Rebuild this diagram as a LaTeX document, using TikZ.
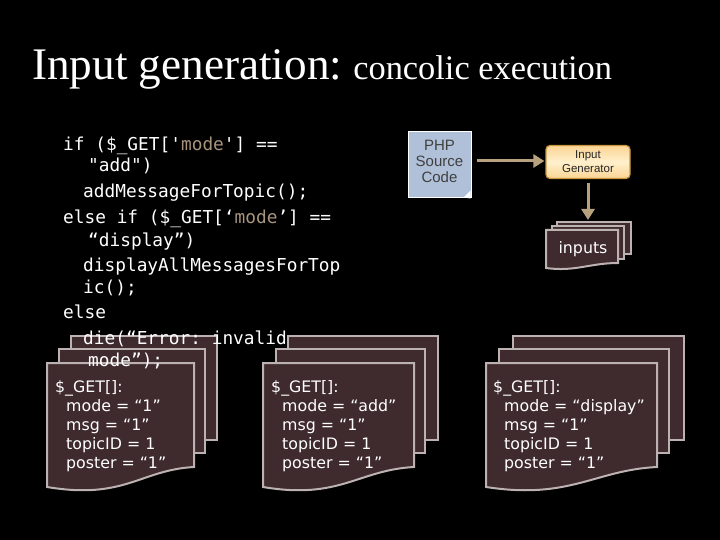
\documentclass[tikz,border=0pt]{standalone}
\usepackage{fontspec}
\setmainfont{Liberation Serif}
\setsansfont{DejaVu Sans}
\setmonofont{DejaVu Sans Mono}
\newfontfamily\labelfont{Liberation Sans}
\usetikzlibrary{arrows.meta,positioning,shapes}
\definecolor{sheetfill}{HTML}{3F2A2D}
\definecolor{sheetline}{HTML}{BDB2B2}
\definecolor{flowtan}{HTML}{B8A27E}
\definecolor{modetan}{HTML}{A8957E}
\definecolor{phpblue}{HTML}{B0C0D8}
\definecolor{genedge}{HTML}{C8963C}
\definecolor{genpale}{HTML}{FFF0CC}
\definecolor{genside}{HTML}{FBD494}
\tikzset{
  sheet/.style={draw=sheetline,fill=sheetfill,line width=2pt},
  code/.style={anchor=base west,inner sep=0pt,font=\ttfamily\fontsize{17.8}{20}\selectfont,text=white},
  gettext/.style={anchor=base west,inner sep=0pt,font=\sffamily\fontsize{15.8}{19}\selectfont,text=white},
  flow/.style={-{Triangle[width=13pt,length=11pt]},draw=flowtan,line width=3pt}
}
\begin{document}
\begin{tikzpicture}[x=1pt,y=-1pt]
\fill[black] (0,0) rectangle (720,540);
\useasboundingbox (0,0) rectangle (720,540);
\node[anchor=base west,inner sep=0pt,text=white,font=\fontsize{45.2}{48}\selectfont] (title) at (32,80) {Input generation:\hspace{-4pt} {\fontsize{34.4}{36}\selectfont concolic execution}};
% stacks of sheets
\draw[sheet] (71,336) rectangle (217,440);
\draw[sheet] (59,349) rectangle (205,453);
\draw[sheet] (47,363) -- (194,363) -- (194,467) .. controls (140,470) and (125,500) .. (47,487) -- cycle;
\draw[sheet] (288,336) rectangle (438,440);
\draw[sheet] (276,349) rectangle (425,453);
\draw[sheet] (263,363) -- (414,363) -- (414,467) .. controls (358,470) and (340,500) .. (263,487) -- cycle;
\draw[sheet] (513,336) rectangle (684,440);
\draw[sheet] (499,349) rectangle (669,453);
\draw[sheet] (486,363) -- (657,363) -- (657,467) .. controls (595,470) and (570,500) .. (486,487) -- cycle;
\draw[sheet] (557,222) rectangle (631,254);
\draw[sheet] (552,226) rectangle (624,259);
\draw[sheet] (546,230) -- (618,230) -- (618,263) .. controls (590,263) and (575,272) .. (546,268) -- cycle;
% code
\node[code] (c0) at (63,151) {if (\$\_GET['{\color{modetan}mode}'] ==};
\node[code] (c1) at (88,172) {"add")};
\node[code] (c2) at (83,197) {addMessageForTopic();};
\node[code] (c3) at (63,224) {else if (\$\_GET[‘{\color{modetan}mode}’] ==};
\node[code] (c4) at (88,246) {“display”)};
\node[code] (c5) at (83,271) {displayAllMessagesForTop};
\node[code] (c6) at (83,293) {ic();};
\node[code] (c7) at (63,318) {else};
\node[code] (c8) at (83,344) {die(“Error: invalid};
\node[code] (c9) at (88,366) {mode”);};
% sheet texts
\node[gettext] (a0) at (55,392) {\$\_GET[]:};
\node[gettext] (a1) at (66,411) {mode = “1”};
\node[gettext] (a2) at (66,430) {msg = “1”};
\node[gettext] (a3) at (66,449) {topicID = 1};
\node[gettext] (a4) at (66,468) {poster = “1”};
\node[gettext] (b0) at (271,392) {\$\_GET[]:};
\node[gettext] (b1) at (282,411) {mode = “add”};
\node[gettext] (b2) at (282,430) {msg = “1”};
\node[gettext] (b3) at (282,449) {topicID = 1};
\node[gettext] (b4) at (282,468) {poster = “1”};
\node[gettext] (d0) at (493,392) {\$\_GET[]:};
\node[gettext] (d1) at (504,411) {mode = “display”};
\node[gettext] (d2) at (504,430) {msg = “1”};
\node[gettext] (d3) at (504,449) {topicID = 1};
\node[gettext] (d4) at (504,468) {poster = “1”};
\node[gettext,anchor=center] (inputs) at (583,249) {inputs};
% tool chain
\node[draw=white,fill=phpblue,line width=1pt,minimum width=63pt,minimum height=66pt,inner sep=0pt,align=center,text=black!75,font=\labelfont\fontsize{15}{16}\selectfont] (php) at (439.5,165) {PHP\\Source\\Code\\[-8pt]{}};
\fill[white] (php.south east) ++(-8,-1) -- ++(7,-7) -- ++(0,8) -- cycle;
\node[draw=genedge,rounded corners=4pt,top color=genside,bottom color=genside,middle color=genpale,line width=1.2pt,minimum width=84pt,minimum height=33pt,inner sep=0pt,align=center,text=black!85,font=\labelfont\fontsize{11.5}{14}\selectfont] (gen) at (588,162) {Input\\Generator};
\coordinate (phpout) at (477,161);
\coordinate (inputstop) at (588,220);
\draw[flow,shorten >=1pt] (phpout) -- (gen.west |- phpout);
\draw[flow,shorten <=4pt] (gen) -- (inputstop);
\end{tikzpicture}
\end{document}
